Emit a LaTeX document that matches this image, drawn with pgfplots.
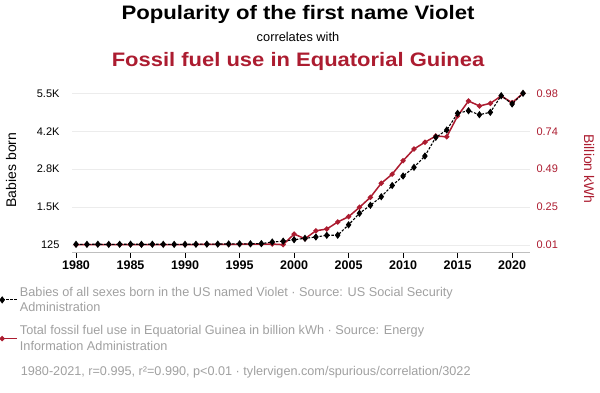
\documentclass[border=0pt]{standalone}
\usepackage{pgfplots}
\pgfplotsset{compat=1.18}
\usepackage{pgfplotstable}
\usepackage{fontspec}
\setmainfont{Liberation Sans}
\definecolor{tvred}{RGB}{172,28,48}
\definecolor{tvgray}{RGB}{160,160,160}
\definecolor{gridgray}{RGB}{236,236,236}

\pgfplotstableread{
year babies
1980 150
1981 148
1982 152
1983 146
1984 150
1985 154
1986 148
1987 152
1988 150
1989 148
1990 150
1991 152
1992 156
1993 158
1994 162
1995 166
1996 168
1997 175
1998 231
1999 260
2000 313
2001 362
2002 408
2003 469
2004 472
2005 841
2006 1248
2007 1532
2008 1836
2009 2233
2010 2570
2011 2878
2012 3278
2013 3941
2014 4199
2015 4791
2016 4883
2017 4742
2018 4827
2019 5415
2020 5121
2021 5500
}\babies

\pgfplotstableread{
year fuel
1980 0.012
1981 0.012
1982 0.013
1983 0.013
1984 0.013
1985 0.013
1986 0.012
1987 0.013
1988 0.013
1989 0.013
1990 0.013
1991 0.013
1992 0.014
1993 0.014
1994 0.014
1995 0.015
1996 0.015
1997 0.016
1998 0.016
1999 0.012
2000 0.080
2001 0.050
2002 0.101
2003 0.112
2004 0.157
2005 0.191
2006 0.251
2007 0.315
2008 0.405
2009 0.463
2010 0.549
2011 0.624
2012 0.667
2013 0.707
2014 0.702
2015 0.835
2016 0.931
2017 0.899
2018 0.916
2019 0.963
2020 0.920
2021 0.980
}\fuel

\begin{document}
\begin{tikzpicture}
\useasboundingbox (-72pt,-140pt) rectangle (528pt,252pt);
% right axis (fossil fuel) with grid
\begin{axis}[
 at={(0pt,0pt)}, anchor=south west,
 width=458pt, height=164pt, scale only axis,
 xmin=1979.63, xmax=2021.64,
 ymin=-0.0348, ymax=1.014,
 axis x line=none,
 axis y line*=right,
 y axis line style={draw=none},
 ytick={0.01,0.2525,0.495,0.7375,0.98},
 yticklabels={0.01,0.25,0.49,0.74,0.98},
 ytick style={draw=none},
 yticklabel style={text=tvred, font=\fontsize{11}{11}\selectfont, xshift=3pt},
 ymajorgrids, grid style={gridgray, line width=0.8pt},
 ylabel={Billion kWh},
 ylabel style={text=tvred, font=\fontsize{14}{14}\selectfont, at={(axis description cs:1.129,0.506)}, anchor=center, rotate=180},
 clip=false,
]
\addplot[tvred, line width=1.5pt, mark=*, mark size=1.8pt] table[x=year,y=fuel] {\fuel};
\end{axis}
% left axis (babies)
\begin{axis}[
 at={(0pt,0pt)}, anchor=south west,
 width=458pt, height=164pt, scale only axis,
 xmin=1979.63, xmax=2021.64,
 ymin=-123, ymax=5688,
 axis x line*=bottom, axis y line*=left,
 x axis line style={draw=gray!50, line width=0.8pt, -},
 y axis line style={draw=none},
 xtick={1980,1985,...,2020},
 xticklabels={1980,1985,1990,1995,2000,2005,2010,2015,2020},
 xtick style={black, line width=0.9pt},
 tick align=outside, major tick length=6pt,
 xticklabel style={font=\bfseries\fontsize{12.5}{12.5}\selectfont, yshift=1pt},
 ytick={125,1468.75,2812.5,4156.25,5500},
 yticklabels={125,1.5K,2.8K,4.2K,5.5K},
 ytick style={draw=none},
 yticklabel style={font=\fontsize{11}{11}\selectfont, xshift=-3pt},
 ylabel={Babies born},
 ylabel style={font=\fontsize{14}{14}\selectfont, at={(axis description cs:-0.133,0.5)}, anchor=center},
 clip=false,
 legend style={at={(axis description cs:-0.157,-0.20)}, anchor=north west, draw=none, fill=none,
   font=\fontsize{12.7}{15.5}\selectfont, text=tvgray, row sep=8.5pt,
   cells={anchor=west, align=left}, inner sep=0pt, outer sep=0pt},
 legend image code/.code={\draw[mark repeat=2, mark phase=1, #1] plot coordinates {(0pt,0pt) (15pt,0pt)};},
]
\addplot[black, line width=1.1pt, dash pattern=on 2.5pt off 1.5pt, mark=diamond*, mark size=2.8pt, mark options={solid}] table[x=year,y=babies] {\babies};
\addlegendentry{Babies of all sexes born in the US named Violet · Source: US Social Security\\Administration}
\addlegendimage{tvred, line width=1.5pt, mark=*, mark size=1.8pt}
\addlegendentry{Total fossil fuel use in Equatorial Guinea in billion kWh · Source: Energy\\Information Administration}
\end{axis}
\node[anchor=base, xscale=1.136, font=\bfseries\fontsize{19.5}{19.5}\selectfont] at (226pt,233pt) {Popularity of the first name Violet};
\node[anchor=base, font=\fontsize{12.8}{12.8}\selectfont] at (226pt,210.3pt) {correlates with};
\node[anchor=base, xscale=1.127, font=\bfseries\fontsize{19.5}{19.5}\selectfont, text=tvred] at (226pt,185.3pt) {Fossil fuel use in Equatorial Guinea};
\node[anchor=base west, inner sep=0pt, font=\fontsize{12.65}{12.65}\selectfont, text=tvgray] at (-51.3pt,-123.3pt) {1980-2021, r=0.995, r²=0.990, p<0.01 · tylervigen.com/spurious/correlation/3022};
\end{tikzpicture}
\end{document}
